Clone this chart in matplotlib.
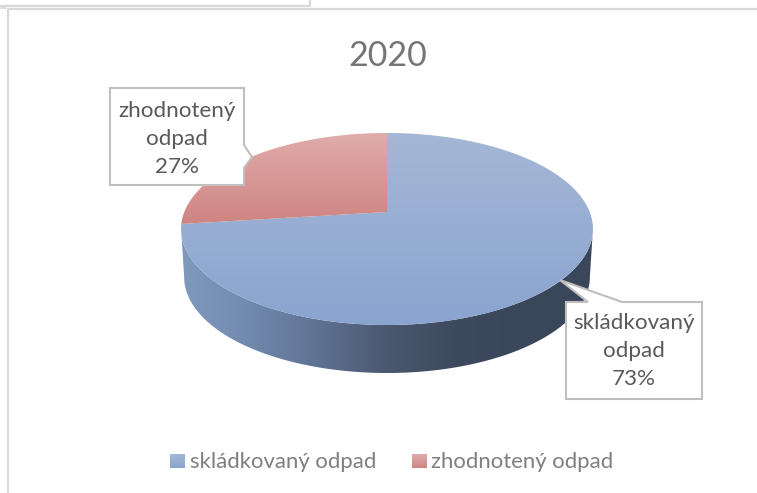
"""
Recreates the 2020 waste pie (3D look) on a pixel-sized axes.
"""
import numpy as np
import matplotlib
matplotlib.use("Agg")
import matplotlib.pyplot as plt
from matplotlib.colors import LinearSegmentedColormap
from matplotlib.patches import Polygon, Rectangle

plt.rcParams["font.family"] = ["Lato", "DejaVu Sans"]

title = "2020"
categories = ["skládkovaný odpad", "zhodnotený odpad"]
shares = [73, 27]
callouts = ["skládkovaný\nodpad\n73%", "zhodnotený\nodpad\n27%"]

# pie geometry in pixels
CX, CY = 387, 212
AX_W, AY_H = 202.7, 93
PERSP = -0.177
DEPTH = 48

BLUE = ("#A5B7D6", "#8AA4D0")
RED = ("#E0ACAB", "#CE8481")
WALL = ["#8299BE", "#7189AE", "#5F7293", "#4A5870", "#3D495D", "#3A4659", "#3A4659"]


def project(theta, scale=1.0, dy=0.0):
    # unit circle -> tilted disc
    u = np.cos(theta)
    v = -np.sin(theta)
    w = 1 + PERSP * v
    return np.column_stack([CX + scale * AX_W * u / w, CY + dy + AY_H * v / w])


def gradient(ax, clip, box, colors, horizontal=False):
    cmap = LinearSegmentedColormap.from_list("g", colors)
    ramp = np.linspace(0, 1, 256)
    ramp = ramp[None, :] if horizontal else ramp[:, None]
    x0, x1, y0, y1 = box
    im = ax.imshow(ramp, cmap=cmap, extent=(x0, x1, y1, y0), aspect="auto", zorder=2)
    im.set_clip_path(clip)
    return im


fig = plt.figure(figsize=(7.57, 4.93), dpi=100)
ax = fig.add_axes([0, 0, 1, 1])

# side wall, between the two widest points of the disc
t = np.radians(np.linspace(-170, -10, 300))
top_edge = project(t)
low_edge = project(t, scale=0.985, dy=DEPTH)
wall = Polygon(np.vstack([top_edge, low_edge[::-1]]), closed=True, fc="none", ec="none", transform=ax.transData)
ax.add_patch(wall)
gradient(ax, wall, (181, 593, 200, 380), WALL, horizontal=True)

# top faces, clockwise from twelve o'clock
stops = 90 - np.cumsum([0] + shares) / sum(shares) * 360
for i, cols in enumerate([BLUE, RED]):
    th = np.radians(np.linspace(stops[i], stops[i + 1], 240))
    pts = np.vstack([[CX, CY], project(th)])
    face = Polygon(pts, closed=True, fc="none", ec="none", transform=ax.transData)
    ax.add_patch(face)
    gradient(ax, face, (pts[:, 0].min(), pts[:, 0].max(), pts[:, 1].min(), pts[:, 1].max()), cols)

# frame lines
grey = "#D9D9D9"
ax.plot([7.5, 7.5, 757], [493, 8.5, 8.5], color=grey, lw=1.6, zorder=1)
ax.plot([0, 310, 310], [5.5, 5.5, 0], color=grey, lw=1.6, zorder=1)
ax.plot([0, 6], [7.5, 7.5], color=grey, lw=1.2, zorder=1)

# callouts
box_style = dict(closed=True, fc="white", ec="#BFBFBF", lw=1.5, zorder=3, joinstyle="miter")
ax.add_patch(Polygon([(566, 302), (588, 302), (560, 280), (622, 302), (702, 302), (702, 399), (566, 399)], **box_style))
ax.add_patch(Polygon([(110, 88), (244, 88), (244, 145), (252, 157), (244, 168), (244, 185), (110, 185)], **box_style))

label_style = dict(ha="center", va="center", color="#595959", fontsize=16.1, linespacing=1.53, zorder=4)
ax.text(634, 351, callouts[0], **label_style)
ax.text(177, 139, callouts[1], **label_style)

ax.text(388, 56, title, ha="center", va="center", color="#757575", fontsize=24.5, zorder=4)

# legend
for x0, x_txt, name, cols in [(170, 190, categories[0], BLUE), (412, 431, categories[1], RED)]:
    key = Rectangle((x0, 454), 15, 14, fc="none", ec="none", transform=ax.transData)
    ax.add_patch(key)
    gradient(ax, key, (x0, x0 + 15, 454, 468), cols)
    ax.text(x_txt, 461.5, name, ha="left", va="center", color="#7F7F7F", fontsize=15.95, zorder=4)

ax.set_xlim(0, 757)
ax.set_ylim(493, 0)
ax.axis("off")
fig.savefig("out.png", dpi=100, facecolor="white")
plt.close(fig)
